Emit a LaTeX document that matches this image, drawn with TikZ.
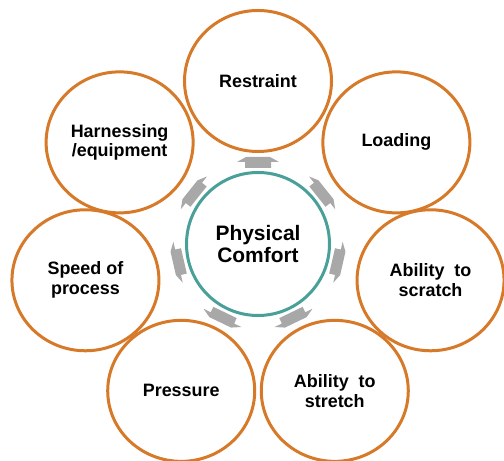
\documentclass[tikz,border=0pt]{standalone}
\usepackage{fontspec}
\setmainfont{Liberation Sans}
\usetikzlibrary{shapes.geometric}
\definecolor{ringorange}{RGB}{214,121,40}
\definecolor{hubteal}{RGB}{72,160,152}
\definecolor{arrowgray}{RGB}{168,168,168}
\tikzset{
	outer/.style={draw=ringorange, line width=3bp, ellipse, minimum width=147bp, minimum height=141bp, inner sep=0pt, align=center, font=\fontsize{18}{20}\selectfont\bfseries},
	hub/.style={draw=hubteal, line width=3bp, circle, minimum size=143bp, inner sep=0pt, align=center, font=\fontsize{21}{23}\selectfont\bfseries}
}

\begin{document}
\begin{tikzpicture}[x=1bp,y=1bp]
			\useasboundingbox (-258,-217) rectangle (246,244);
			\node[hub] (hub) at (0,0) {Physical\\Comfort};
			\foreach \n/\a/\t in {restraint/90/Restraint,loading/38.57/Loading,scratch/-12.86/{Ability~~to\\scratch},stretch/-64.29/{Ability~~to\\stretch},pressure/-115.71/Pressure,speed/192.86/{Speed of\\process},harness/141.43/{Harnessing\\/equipment}}{
				\node[outer] (\n) at (\a:177 and 163) {\t};
				\fill[arrowgray, shift={(\a:82)}, rotate=\a-90] (-13,-6) -- (13,-6) -- (13,0) -- (21,0) -- (12,5) -- (-12,5) -- (-21,0) -- (-13,0) -- cycle;
			}
		\end{tikzpicture}
\end{document}
